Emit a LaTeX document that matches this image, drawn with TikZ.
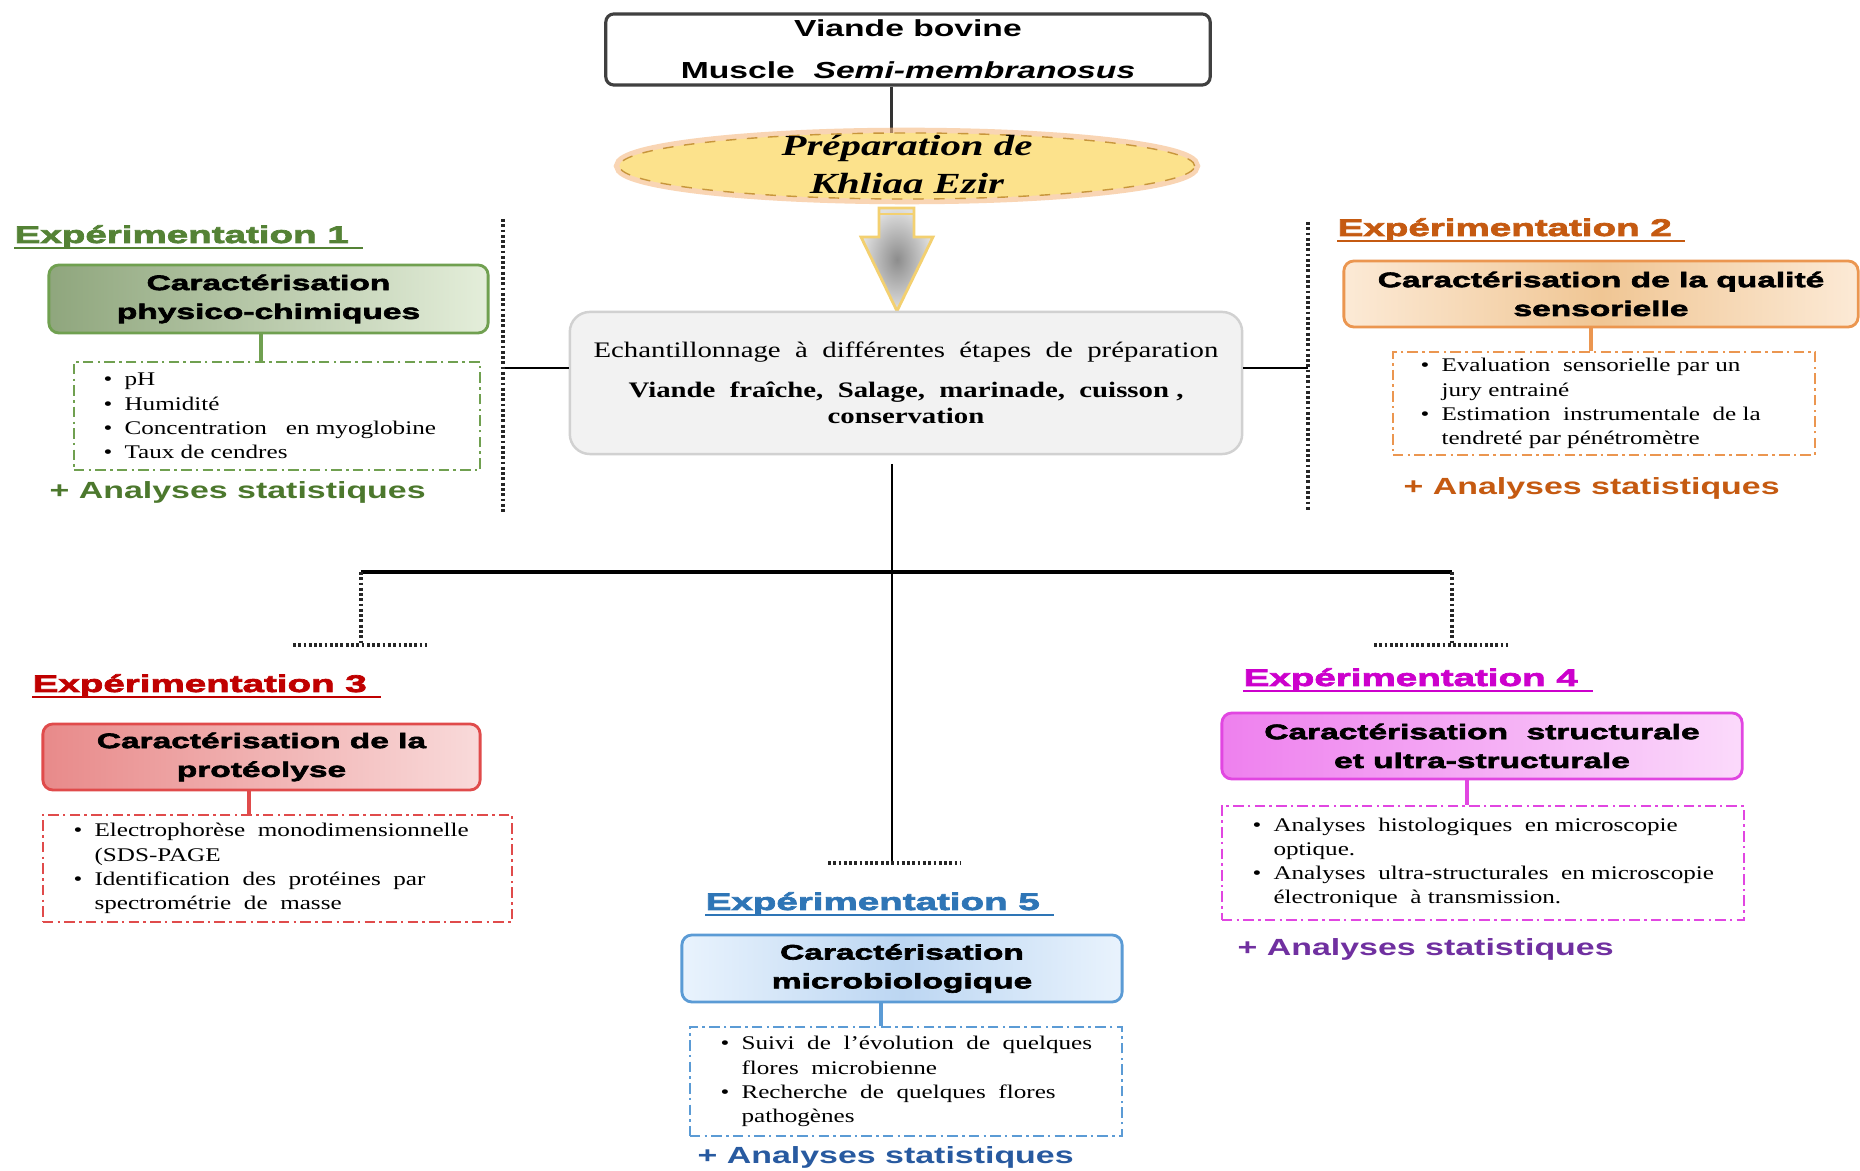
\documentclass[tikz,border=0pt]{standalone}
\usepackage{fontspec}
\setmainfont{Liberation Serif}
\newfontfamily\sfw{Liberation Sans}[FakeStretch=1.45]
\newfontfamily\sfh{Liberation Sans Bold}[FakeStretch=1.6,FakeBold=3]
\newfontfamily\rmw{Liberation Serif}[FakeStretch=1.3]
\newfontfamily\rme{Liberation Serif}[FakeStretch=1.4]
\usetikzlibrary{shapes.geometric,calc}

\definecolor{cGreen}{RGB}{84,130,53}
\definecolor{cGreenD}{RGB}{76,120,45}
\definecolor{cOrange}{RGB}{197,90,17}
\definecolor{cRed}{RGB}{192,0,0}
\definecolor{cMag}{RGB}{204,0,204}
\definecolor{cPurple}{RGB}{112,48,160}
\definecolor{cBlue}{RGB}{46,117,182}
\definecolor{cBlueD}{RGB}{40,90,160}

\definecolor{gDark}{RGB}{143,166,125}
\definecolor{gLight}{RGB}{228,238,218}
\definecolor{gLine}{RGB}{112,160,80}
\definecolor{oDark}{RGB}{240,198,148}
\definecolor{oLight}{RGB}{252,234,214}
\definecolor{oLine}{RGB}{235,150,80}
\definecolor{rDark}{RGB}{232,138,138}
\definecolor{rLight}{RGB}{249,218,218}
\definecolor{rLine}{RGB}{224,75,75}
\definecolor{mDark}{RGB}{238,128,238}
\definecolor{mLight}{RGB}{251,218,251}
\definecolor{mLine}{RGB}{225,70,225}
\definecolor{bDark}{RGB}{188,214,242}
\definecolor{bLight}{RGB}{233,243,253}
\definecolor{bLine}{RGB}{91,155,213}

\definecolor{ellFill}{RGB}{252,226,140}
\definecolor{ellLine}{RGB}{200,150,60}
\definecolor{ellGlow}{RGB}{246,185,130}
\definecolor{arrLine}{RGB}{243,208,112}

\newcommand{\bul}{\makebox[0.21cm][l]{\textbullet}}
\newcommand{\ind}{\hspace*{0.21cm}}

\tikzset{
  conn/.style={line width=0.75pt, black},
  bar/.style={line width=1.1pt, black},
  dots/.style={line width=0.9pt, black!85, dash pattern=on 0.8pt off 0.7pt},
  tbox/.style={draw, rounded corners=0.1cm, line width=0.8pt, align=center,
    inner sep=0, font=\sfh\fontsize{5.95}{8.2}\selectfont},
  heading/.style={anchor=base west, inner sep=0,
    font=\sfh\fontsize{6.85}{8}\selectfont},
  stat/.style={anchor=base west, inner sep=0,
    font=\sfw\bfseries\fontsize{6.65}{8}\selectfont},
  lbox/.style={draw, line width=0.6pt, inner sep=0,
    dash pattern=on 3pt off 1.2pt on 0.7pt off 1.2pt},
  ltext/.style={anchor=west, align=left, inner sep=0,
    font=\rmw\fontsize{5.5}{6.88}\selectfont},
}

\begin{document}
\begin{tikzpicture}[x=0.01cm, y=-0.01cm]
\useasboundingbox (0,0) rectangle (1860,1171);
\fill[white] (0,0) rectangle (1860,1171);

% ---- source and preparation ----
\node[draw=black!75, line width=0.9pt, rounded corners=0.08cm, fill=white,
      minimum width=6.04cm, minimum height=0.71cm, inner sep=0, align=center,
      font=\sfw\bfseries\fontsize{6.6}{11.9}\selectfont]
  (top) at (908,49.5) {Viande bovine\\Muscle\ \ \textit{Semi-membranosus}};

\coordinate (vx) at (891,0);
\draw[line width=0.85pt, black!80] (top.south -| vx) -- (891,133);

\node[ellipse, minimum width=5.75cm, minimum height=0.66cm, inner sep=0,
      draw=ellGlow, line width=3pt, opacity=0.6] (glow) at (907,166) {};
\node[ellipse, minimum width=5.75cm, minimum height=0.66cm, inner sep=0,
      fill=ellFill, draw=ellLine, line width=0.4pt, dashed] (prep) at (907,166) {};
\node[align=center, inner sep=0,
      font=\rme\bfseries\itshape\fontsize{8.3}{10.8}\selectfont]
  (preptxt) at (907,165) {Préparation de\\Khliaa Ezir};

% block arrow
\path[draw=arrLine, line width=0.8pt, inner color=black!45, outer color=black!12]
  (879,208) -- (914,208) -- (914,237) -- (933,237) -- (897,311)
  -- (861,237) -- (879,237) -- cycle;
\draw[arrLine, line width=0.5pt] (879,214) -- (914,214);

% sampling box
\node[draw=black!18, fill=black!5, line width=0.7pt, rounded corners=0.2cm,
      minimum width=6.72cm, minimum height=1.42cm, inner sep=0, align=center,
      font=\rmw\fontsize{6.3}{7.4}\selectfont]
  (mid) at (906,383)
  {Echantillonnage\ \ à\ \ différentes\ \ étapes\ \ de\ \ préparation\\[3.9pt]
   {\bfseries Viande\ \ fraîche,\ \ Salage,\ \ marinade,\ \ cuisson ,}\\
   {\bfseries conservation}};

% side separators and links
\coordinate (sl1) at (503,219);
\coordinate (sl2) at (503,512);
\coordinate (sr1) at (1308,222);
\coordinate (sr2) at (1308,510);
\draw[dots] (sl1) -- (sl2);
\draw[dots] (sr1) -- (sr2);
\coordinate (jl) at (505,368);
\coordinate (jr) at (1308,368);
\draw[conn] (jl) -- (mid.west |- jl);
\draw[conn] (mid.east |- jr) -- (jr);

% lower tree
\coordinate (c0) at (892,464);
\coordinate (cfoot) at (892,862);
\coordinate (lbar) at (361,572);
\coordinate (rbar) at (1452,572);
\coordinate (lfoot) at (361,644);
\coordinate (rfoot) at (1452,644);
\draw[conn] (c0) -- (cfoot);
\draw[bar] (lbar) -- (rbar);
\draw[dots] (lbar) -- (lfoot);
\draw[dots] (rbar) -- (rfoot);
\draw[dots] ($(lfoot)+(-68,1)$) -- ($(lfoot)+(66,1)$);
\draw[dots] ($(rfoot)+(-78,1)$) -- ($(rfoot)+(56,1)$);
\draw[dots] ($(cfoot)+(-64,1)$) -- ($(cfoot)+(69,1)$);

% ---- Experiment 1 ----
\node[heading, text=cGreen] (h1) at (14,243) {Expérimentation 1};
\draw[cGreen, line width=0.6pt] ($(h1.base west)+(0,5)$) -- ++(349,0);
\node[tbox, draw=gLine, left color=gDark, right color=gLight,
      minimum width=4.39cm, minimum height=0.68cm] (b1) at (268.5,299)
  {Caractérisation\\physico-chimiques};
\node[lbox, draw=gLine, minimum width=4.06cm, minimum height=1.08cm] (l1) at (277,416) {};
\node[ltext] (t1) at ($(l1.west)+(30,0)$)
  {\bul pH\\ \bul Humidité\\ \bul Concentration\ \ \ en myoglobine\\ \bul Taux de cendres};
\draw[gLine, line width=0.9pt] (b1.south -| 261,0) -- (l1.north -| 261,0);
\node[stat, text=cGreenD] (s1) at (49,499) {+ Analyses statistiques};

% ---- Experiment 2 ----
\node[heading, text=cOrange] (h2) at (1337,236) {Expérimentation 2};
\draw[cOrange, line width=0.6pt] ($(h2.base west)+(0,5)$) -- ++(348,0);
\node[tbox, draw=oLine, left color=oLight, right color=oLight, middle color=oDark,
      minimum width=5.14cm, minimum height=0.66cm] (b2) at (1601,294)
  {Caractérisation de la qualité\\sensorielle};
\node[lbox, draw=oLine, minimum width=4.22cm, minimum height=1.03cm] (l2) at (1604,403.5) {};
\node[ltext] (t2) at ($(l2.west)+(28,0)$)
  {\bul Evaluation\ \ sensorielle par un\\ \ind jury entrainé\\
   \bul Estimation\ \ instrumentale\ \ de la\\ \ind tendreté par pénétromètre};
\draw[oLine, line width=0.9pt] (b2.south -| 1591,0) -- (l2.north -| 1591,0);
\node[stat, text=cOrange] (s2) at (1403,495) {+ Analyses statistiques};

% ---- Experiment 3 ----
\node[heading, text=cRed] (h3) at (32,692) {Expérimentation 3};
\draw[cRed, line width=0.6pt] ($(h3.base west)+(0,5)$) -- ++(349,0);
\node[tbox, draw=rLine, left color=rDark, right color=rLight,
      minimum width=4.37cm, minimum height=0.66cm] (b3) at (261.5,757)
  {Caractérisation de la\\protéolyse};
\node[lbox, draw=rLine, minimum width=4.69cm, minimum height=1.07cm] (l3) at (277.5,868.5) {};
\node[ltext] (t3) at ($(l3.west)+(31,0)$)
  {\bul Electrophorèse\ \ monodimensionnelle\\ \ind (SDS-PAGE\\
   \bul Identification\ \ des\ \ protéines\ \ par\\ \ind spectrométrie\ \ de\ \ masse};
\draw[rLine, line width=0.9pt] (b3.south -| 249,0) -- (l3.north -| 249,0);

% ---- Experiment 4 ----
\node[heading, text=cMag] (h4) at (1243,686) {Expérimentation 4};
\draw[cMag, line width=0.6pt] ($(h4.base west)+(0,5)$) -- ++(350,0);
\node[tbox, draw=mLine, left color=mDark, right color=mLight,
      minimum width=5.2cm, minimum height=0.66cm] (b4) at (1482,746)
  {Caractérisation\ \ structurale\\et ultra-structurale};
\node[lbox, draw=mLine, minimum width=5.22cm, minimum height=1.14cm] (l4) at (1483,863) {};
\node[ltext] (t4) at ($(l4.west)+(31,0)$)
  {\bul Analyses\ \ histologiques\ \ en microscopie\\ \ind optique.\\
   \bul Analyses\ \ ultra-structurales\ \ en microscopie\\ \ind électronique\ \ à transmission.};
\draw[mLine, line width=0.9pt] (b4.south -| 1467,0) -- (l4.north -| 1467,0);
\node[stat, text=cPurple] (s4) at (1237,956) {+ Analyses statistiques};

% ---- Experiment 5 ----
\node[heading, text=cBlue] (h5) at (705,910) {Expérimentation 5};
\draw[cBlue, line width=0.6pt] ($(h5.base west)+(0,5)$) -- ++(349,0);
\node[tbox, draw=bLine, left color=bLight, right color=bLight, middle color=bDark,
      minimum width=4.4cm, minimum height=0.67cm] (b5) at (902,968.5)
  {Caractérisation\\microbiologique};
\node[lbox, draw=bLine, minimum width=4.32cm, minimum height=1.09cm] (l5) at (906,1081.5) {};
\node[ltext] (t5) at ($(l5.west)+(31,0)$)
  {\bul Suivi\ \ de\ \ l’évolution\ \ de\ \ quelques\\ \ind flores\ \ microbienne\\
   \bul Recherche\ \ de\ \ quelques\ \ flores\\ \ind pathogènes};
\draw[bLine, line width=0.9pt] (b5.south -| 881,0) -- (l5.north -| 881,0);
\node[stat, text=cBlueD] (s5) at (697,1164) {+ Analyses statistiques};

\end{tikzpicture}
\end{document}
